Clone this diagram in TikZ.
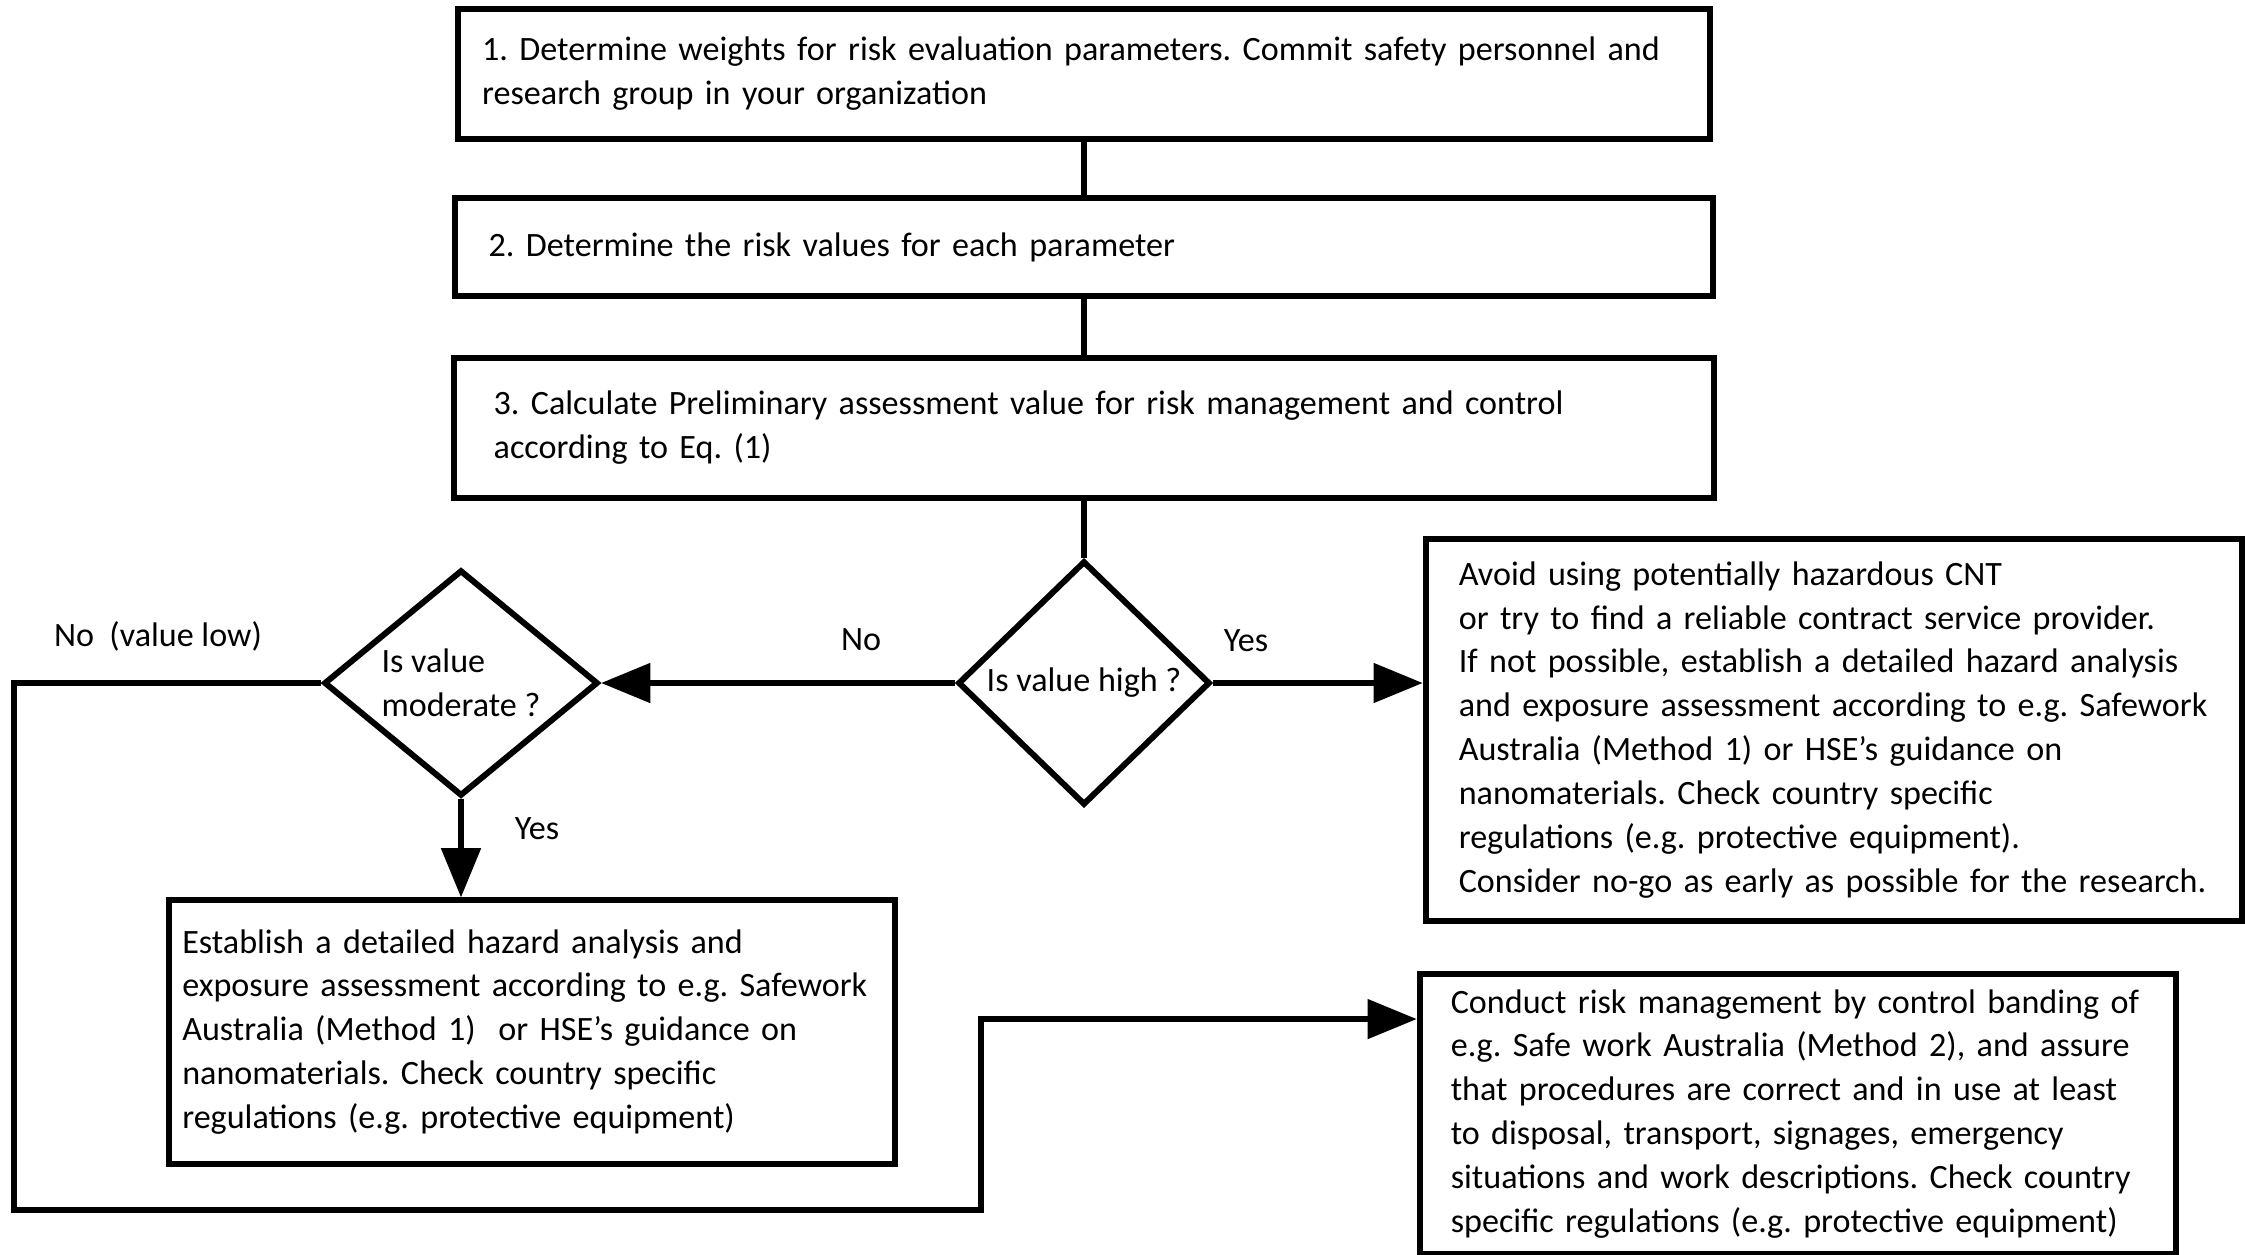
\documentclass[tikz,border=0pt]{standalone}
\usepackage{fontspec}
\setmainfont{Carlito}
\frenchspacing
\usetikzlibrary{shapes,arrows.meta}

\begin{document}
\begin{tikzpicture}[x=0.01cm,y=-0.01cm,font=\fontsize{9.7}{12.5}\selectfont,
    stepbox/.style={draw,line width=1.7pt,rectangle,align=left,inner ysep=0pt},
    decide/.style={draw,line width=1.7pt,diamond,inner sep=-3pt,align=left},
    flow/.style={line width=1.7pt},
    arr/.style={flow,-{Triangle[length=14pt,width=11pt]}},
    lbl/.style={inner sep=0pt}]
\useasboundingbox (0,0) rectangle (2245,1254);

   \node[stepbox,minimum height=1.30cm,inner xsep=0.24cm,text width=12.03cm] (weights) at (1084,74)
      {1. Determine weights for risk evaluation parameters. Commit safety personnel and\\research group in your organization};
   \node[stepbox,minimum height=0.98cm,inner xsep=0.34cm,text width=11.90cm] (values) at (1084,247)
      {2. Determine the risk values for each parameter};
   \node[stepbox,minimum height=1.40cm,inner xsep=0.40cm,text width=11.80cm] (prelim) at (1084,428)
      {3. Calculate Preliminary assessment value for risk management and control\\according to Eq. (1)};

   \node[decide,aspect=1.03,minimum width=2.52cm,minimum height=2.44cm] (high) at (1084,683) {Is value high ?};
   \node[decide,aspect=1.2,minimum width=2.74cm,minimum height=2.26cm] (moderate) at (461,683) {Is value\\moderate ?};

   \node[stepbox,minimum height=3.81cm,inner xsep=0.33cm,text width=7.50cm] (avoid) at (1834,730)
      {Avoid using potentially hazardous CNT\\or try to find a reliable contract service provider.\\If not possible, establish a detailed hazard analysis\\and exposure assessment according to e.g. Safework\\Australia (Method 1) or HSE's guidance on\\nanomaterials. Check country specific\\regulations (e.g. protective equipment).\\Consider no-go as early as possible for the research.};
   \node[stepbox,minimum height=2.63cm,inner xsep=0.13cm,text width=6.99cm] (detailed) at (532,1032)
      {Establish a detailed hazard analysis and\\exposure assessment according to e.g. Safework\\Australia (Method 1)~ or HSE's guidance on\\nanomaterials. Check country specific\\regulations (e.g. protective equipment)};
   \node[stepbox,minimum height=2.79cm,inner xsep=0.31cm,text width=6.94cm] (banding) at (1798,1114)
      {Conduct risk management by control banding of\\e.g. Safe work Australia (Method 2), and assure\\that procedures are correct and in use at least\\to disposal, transport, signages, emergency\\situations and work descriptions. Check country\\specific regulations (e.g. protective equipment)};

	\draw[flow] (weights) -- (values);
	\draw[flow] (values) -- (prelim);
	\draw[flow] (prelim) -- (high);
	\draw[arr] (high) -- (moderate);
	\draw[arr] (high) -- (high -| avoid.west);
	\draw[arr] (moderate) -- (moderate |- detailed.north);

\coordinate (lowcorner) at (14,683);
\coordinate (lowturn) at (981,1210);
\coordinate (lowin) at ([yshift=27pt]banding.west);
	\draw[arr] (moderate.west) -- (lowcorner) |- (lowturn) |- (lowin);

   \node[lbl] (lowlbl) at (158,636) {No~~(value low)};
   \node[lbl] (nolbl) at (861,640) {No};
   \node[lbl] (yeshigh) at (1246,641) {Yes};
   \node[lbl] (yesmod) at (537,829) {Yes};
\end{tikzpicture}
\end{document}
